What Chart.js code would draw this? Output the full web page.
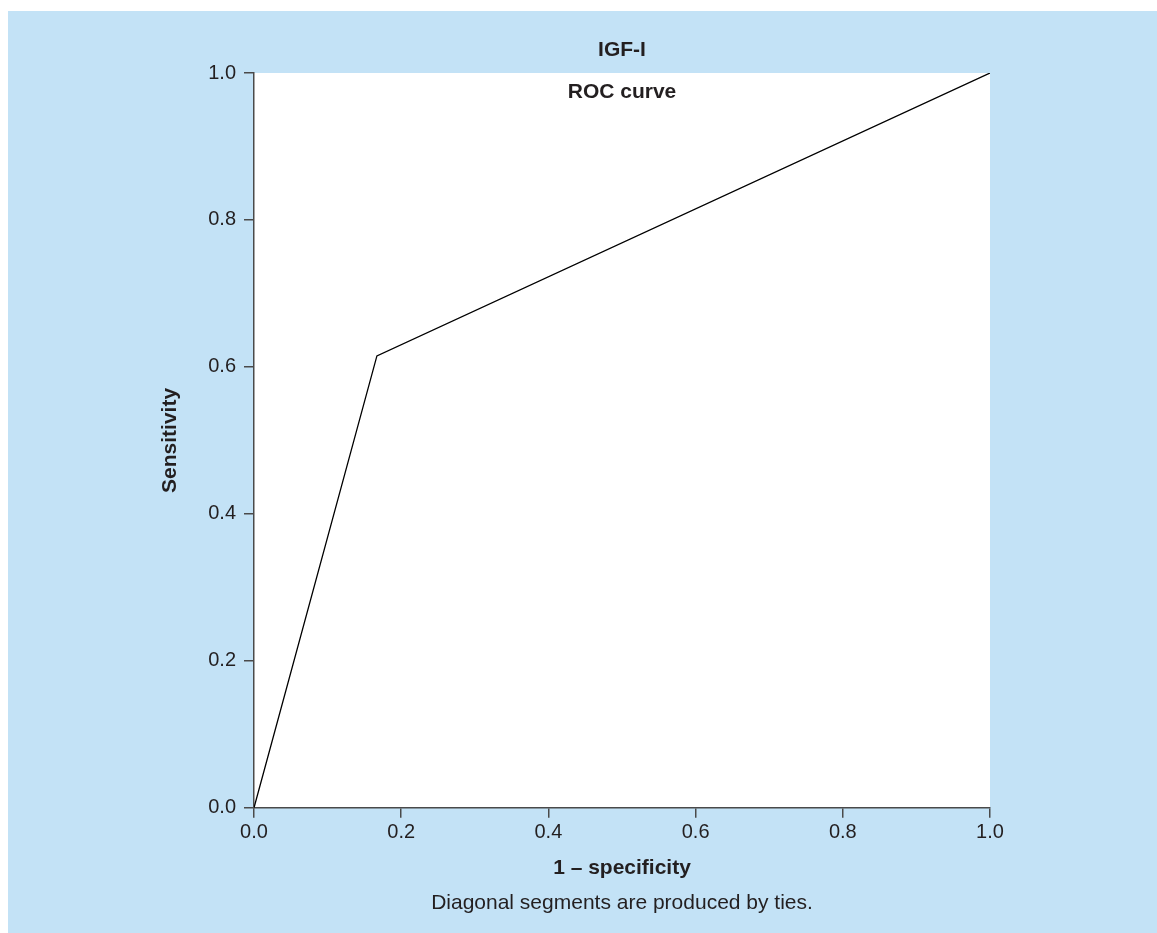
<!DOCTYPE html>
<html>
<head>
<meta charset="utf-8">
<script src="https://cdn.jsdelivr.net/npm/chart.js@4"></script>
<style>
body { margin: 0; background: #fff; }
#box { position: absolute; left: 8px; top: 11px; width: 1149px; height: 922px; background: #c3e2f6; }
</style>
</head>
<body>
<div id="box"><canvas id="roc" width="1149" height="922"></canvas></div>
<script>
const falsePosRate = [0, 0.167, 1];
const sensitivity = [0, 0.615, 1];
const tickValues = [0, 0.2, 0.4, 0.6, 0.8, 1.0];

const pts = falsePosRate.map((x, i) => ({ x: x, y: sensitivity[i] }));
const font = "'Liberation Sans', Arial, Helvetica, sans-serif";
const axisColor = "#4a4a4a";
const textColor = "#231f20";

// white plot area, titles centred on the plot area, caption
const extras = {
	id: "extras",
	beforeDraw(chart) {
		const a = chart.chartArea, c = chart.ctx;
		c.save();
		c.fillStyle = "#fff";
		c.fillRect(a.left, a.top, a.right - a.left, a.bottom - a.top);
		c.restore();
	},
	afterDatasetsDraw(chart) {
		const a = chart.chartArea, c = chart.ctx;
		const cx = (a.left + a.right) / 2;
		c.save();
		c.fillStyle = textColor;
		c.textAlign = "center";
		c.textBaseline = "middle";
		c.font = "bold 21px " + font;
		c.fillText("IGF-I", cx, a.top - 23);
		c.fillText("ROC curve", cx, a.top + 19);
		c.font = "21px " + font;
		c.fillText("Diagonal segments are produced by ties.", cx, a.bottom + 95);
		c.restore();
	},
};

const ctx = document.getElementById("roc").getContext("2d");
const chart = new Chart(ctx, {
	type: "scatter",
	data: {
		datasets: [
			{
				data: pts,
				showLine: true,
				borderColor: "#000",
				borderWidth: 1.3,
				pointRadius: 0,
				tension: 0,
			},
		],
	},
	options: {
		responsive: false,
		animation: false,
		layout: { padding: { left: 150, right: 167, top: 62, bottom: 52 } },
		plugins: {
			legend: { display: false },
			tooltip: { enabled: false },
			title: { display: false },
		},
		scales: {
			x: {
				type: "linear",
				min: 0,
				max: 1,
				afterBuildTicks: (s) => { s.ticks = tickValues.map((v) => ({ value: v })); },
				ticks: {
					color: textColor,
					font: { family: font, size: 20 },
					padding: 3,
					callback: (v) => v.toFixed(1),
				},
				grid: { display: true, drawOnChartArea: false, drawTicks: true, tickLength: 10, color: axisColor, lineWidth: 1.5 },
				border: { color: axisColor, width: 1.5 },
				title: {
					display: true,
					text: "1 \u2013 specificity",
					color: textColor,
					font: { family: font, size: 21, weight: "bold" },
					padding: { top: 8, bottom: 0 },
				},
			},
			y: {
				type: "linear",
				min: 0,
				max: 1,
				afterBuildTicks: (s) => { s.ticks = tickValues.map((v) => ({ value: v })); },
				ticks: {
					color: textColor,
					font: { family: font, size: 20 },
					padding: 8,
					callback: (v) => v.toFixed(1),
				},
				grid: { display: true, drawOnChartArea: false, drawTicks: true, tickLength: 10, color: axisColor, lineWidth: 1.5 },
				border: { color: axisColor, width: 1.5 },
				title: {
					display: true,
					text: "Sensitivity",
					color: textColor,
					font: { family: font, size: 21, weight: "bold" },
					padding: { top: 0, bottom: 0 },
				},
				afterFit: (s) => { s.width = 96; },
			},
		},
	},
	plugins: [extras],
});
</script>
</body>
</html>
